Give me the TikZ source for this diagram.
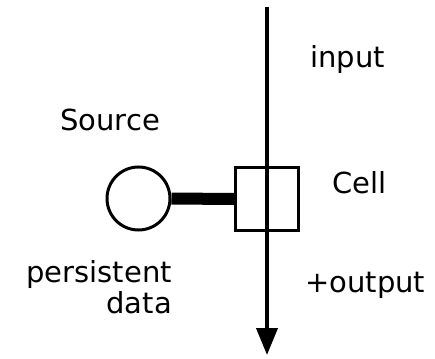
\documentclass[tikz,border=0pt]{standalone}
\usepackage{fontspec}
\setmainfont{DejaVu Sans}
\usetikzlibrary{arrows.meta}
\begin{document}
\begin{tikzpicture}[x=1pt,y=-1pt,
  label/.style={inner sep=0pt,font=\fontsize{29}{31}\selectfont},
  cellbox/.style={draw,line width=3pt,minimum size=63pt,inner sep=0pt},
  sourcedot/.style={draw,circle,line width=3pt,minimum size=63pt,inner sep=0pt},
  flow/.style={line width=4pt,-{Triangle[length=27pt,width=21pt]}},
  link/.style={line width=12pt}]
\useasboundingbox (0,0) rectangle (435,358);
% the cell and its data source
\node[cellbox] (cell) at (267,199) {};
\node[sourcedot] (src) at (138.5,198.5) {};
\draw[link] (src.east) -- (cell.west);
% the data flow running through the cell
\coordinate (in) at (267,7);
\coordinate (out) at (267,355);
\draw[flow] (in) -- (out);
% labels
\node[label,anchor=base west] (lin) at (310,68) {input};
\node[label,anchor=base west] (lsrc) at (60,130) {Source};
\node[label,anchor=base west] (lcell) at (332,193) {Cell};
\node[label,anchor=base west] (lout) at (305,292) {+output};
\node[label,anchor=base east,align=right] (lpd) at (172,313) {persistent\\data};
\end{tikzpicture}
\end{document}
